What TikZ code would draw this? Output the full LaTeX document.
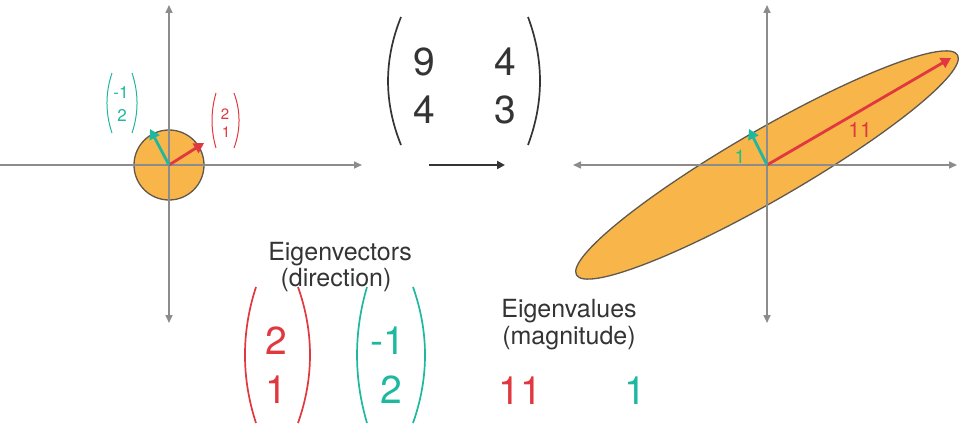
\documentclass[tikz,border=0pt]{standalone}
\usepackage{fontspec}
\setmainfont{TeX Gyre Heros}
\usepackage{tikz}
\usetikzlibrary{arrows.meta}
\definecolor{eigdark}{RGB}{52, 52, 52}
\definecolor{eiggray}{RGB}{140, 140, 140}
\definecolor{eigred}{RGB}{224, 56, 62}
\definecolor{eigteal}{RGB}{30, 184, 160}
\definecolor{eigorange}{RGB}{248, 182, 74}
\definecolor{eigrim}{RGB}{95, 88, 78}

\begin{document}
\begin{tikzpicture}[x=1pt, y=-1pt,
    axis/.style={draw=eiggray, line width=1.6pt, >={Triangle[length=8pt, width=7pt]}},
    blob/.style={draw=eigrim, line width=1.3pt, fill=eigorange},
    vec/.style={line width=2.8pt, -{Triangle[length=10pt, width=11pt]}},
    paren/.style={line width=1.7pt},
    thinparen/.style={line width=1pt},
    bigdig/.style={font=\fontsize{39}{44}\selectfont, inner sep=0pt},
    middig/.style={font=\fontsize{21}{24}\selectfont, inner sep=0pt},
    smalldig/.style={font=\fontsize{17}{20}\selectfont, inner sep=0pt},
    heading/.style={font=\fontsize{25}{28}\selectfont, text=eigdark, inner sep=0pt}
]
    \useasboundingbox (0,0) rectangle (960,427);

    % Origins
    \coordinate (o1) at (169,165);
    \coordinate (o2) at (767,165);

    % Shapes
    \draw[blob] (o1) circle [radius=35];
    \draw[blob, rotate around={30:(o2)}] (o2) ellipse [x radius=220, y radius=35];

    % Axes
    \draw[axis, ->] (0,165) -- (362,165);
    \draw[axis, <->] (169,5) -- (169,323);
    \draw[axis, <->] (573,165) -- (957,165);
    \draw[axis, <->] (767,5) -- (767,323);

    % Vectors
    \coordinate (r1) at (204,143);
    \coordinate (t1) at (150,129);
    \coordinate (r2) at (951,58);
    \coordinate (t2) at (749,129);
    \draw[vec, eigred] (o1) -- (r1);
    \draw[vec, eigteal] (o1) -- (t1);
    \draw[vec, eigred] (o2) -- (r2);
    \draw[vec, eigteal] (o2) -- (t2);

    % Small labels near the circle
    \draw[thinparen, eigteal] (112,73) .. controls (105.3,93) and (105.3,113) .. (112,133);
    \draw[thinparen, eigteal] (132,73) .. controls (138.7,93) and (138.7,113) .. (132,133);
    \node[smalldig, eigteal] (sa1) at (121,92) {-1};
    \node[smalldig, eigteal] (sa2) at (122,115) {2};
    \draw[thinparen, eigred] (216,93) .. controls (210.7,111) and (210.7,130) .. (216,148);
    \draw[thinparen, eigred] (234,93) .. controls (240.7,111) and (240.7,130) .. (234,148);
    \node[smalldig, eigred, font=\fontsize{15}{18}\selectfont] (sb1) at (225,114) {2};
    \node[smalldig, eigred, font=\fontsize{15}{18}\selectfont] (sb2) at (226,132) {1};

    % Matrix
    \draw[paren, eigdark] (401,17) .. controls (383.7,60) and (383.7,102) .. (401,145);
    \draw[paren, eigdark] (528,17) .. controls (544,60) and (544,102) .. (528,145);
    \node[bigdig, eigdark] (m11) at (424,62) {9};
    \node[bigdig, eigdark] (m12) at (505,62) {4};
    \node[bigdig, eigdark] (m21) at (424,110) {4};
    \node[bigdig, eigdark] (m22) at (505,110) {3};
    \coordinate (ta) at (429,165);
    \coordinate (tb) at (505,165);
    \draw[eigdark, line width=2.2pt, -{Triangle[length=8pt, width=8pt]}] (ta) -- (tb);

    % Labels inside the ellipse
    \node[middig, eigred] (big11) at (860,130) {11};
    \node[middig, eigteal!85!green, font=\fontsize{19}{22}\selectfont] (big1) at (740,157) {1};

    % Eigenvectors
    \node[heading] (evec) at (340,254) {Eigenvectors};
    \node[heading] (evecsub) at (336,280) {(direction)};
    \draw[paren, eigred] (256,287) .. controls (241.3,332) and (241.3,378) .. (256,423);
    \draw[paren, eigred] (298,287) .. controls (314,332) and (314,378) .. (298,423);
    \node[bigdig, eigred] (va1) at (276,341) {2};
    \node[bigdig, eigred] (va2) at (276,390) {1};
    \draw[paren, eigteal] (367,287) .. controls (353.7,332) and (353.7,378) .. (367,423);
    \draw[paren, eigteal] (413,287) .. controls (429,332) and (429,378) .. (413,423);
    \node[bigdig, eigteal] (vb1) at (388,341) {-1};
    \node[bigdig, eigteal] (vb2) at (391,390) {2};

    % Eigenvalues
    \node[heading] (eval) at (569,311) {Eigenvalues};
    \node[heading] (evalsub) at (569,338) {(magnitude)};
    \node[bigdig, eigred] (la1) at (520,391) {11};
    \node[bigdig, eigteal] (la2) at (635,391) {1};
\end{tikzpicture}
\end{document}
